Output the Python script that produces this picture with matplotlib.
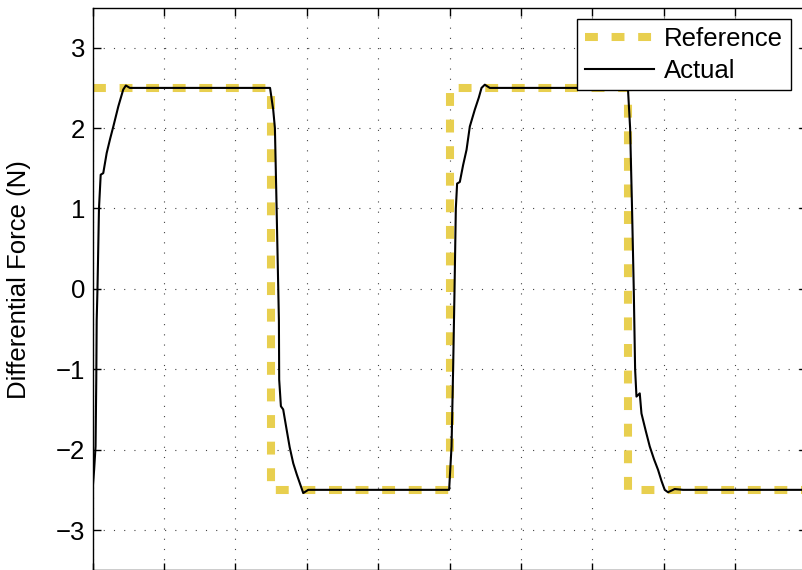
import numpy as np
import matplotlib
matplotlib.use('Agg')
import matplotlib.pyplot as plt

# Reference square wave (N)
ref_t = [0, 2.5, 2.5, 5, 5, 7.5, 7.5, 10, 10]
ref_f = [2.5, 2.5, -2.5, -2.5, 2.5, 2.5, -2.5, -2.5, 2.5]

act_t = [0, 0.02, 0.04, 0.05, 0.056, 0.067, 0.088, 0.112, 0.148, 0.196, 0.245, 0.289, 0.359,
         0.428, 0.465, 0.52, 0.6, 2.485, 2.529, 2.553, 2.577, 2.6, 2.609, 2.613, 2.637,
         2.669, 2.717, 2.76, 2.81, 2.86, 2.903, 2.95, 3.02, 3.1, 4.994, 5.028, 5.05, 5.07, 5.088,
         5.106, 5.144, 5.19, 5.238, 5.284, 5.354, 5.41, 5.448, 5.494, 5.564, 5.65, 7.49, 7.501, 7.53,
         7.557, 7.581, 7.6, 7.619, 7.665, 7.689, 7.75, 7.805, 7.865, 7.921, 7.97, 8.015, 8.061,
         8.155, 8.27, 10]
act_f = [-2.48, -2.25, -1.96, -1.13, -0.39, 0.0, 1.0, 1.42, 1.44, 1.69, 1.87, 2.02, 2.27,
         2.48, 2.53, 2.50, 2.50, 2.50, 2.23, 2.0, 1.0, 0.0, -0.39, -1.13, -1.46,
         -1.5, -1.75, -1.97, -2.17, -2.31, -2.42, -2.54, -2.50, -2.50, -2.50, -1.96, -1.0, 0.0, 1.0,
         1.31, 1.33, 1.54, 1.73, 2.02, 2.23, 2.38, 2.50, 2.54, 2.50, 2.50, 2.50, 2.47, 2.0,
         1.0, 0.0, -1.0, -1.34, -1.30, -1.55, -1.77, -1.96, -2.12, -2.25, -2.39, -2.5, -2.53,
         -2.49, -2.50, -2.50]

yticks = [-3, -2, -1, 0, 1, 2, 3]

plt.rcParams['font.family'] = ['Liberation Sans', 'DejaVu Sans']
fs = 18.5

fig = plt.figure(figsize=(8.03, 5.70), dpi=100)
ax = fig.add_axes([92.7 / 803, -0.0004, (806.4 - 92.7) / 803, 0.9872])

ax.plot(ref_t, ref_f, color='#E8CF4F', lw=5.8, dashes=(1.6, 1.7), label='Reference', zorder=2)
ax.plot(act_t, act_f, color='black', lw=1.5, label='Actual', zorder=3)

ax.set_xlim(0, 10)
ax.set_ylim(-3.5, 3.5)
ax.set_xticks(np.arange(0, 11, 1))
ax.set_yticks(yticks)
ax.set_yticklabels(['\u22123', '\u22122', '\u22121', '0', '1', '2', '3'])
ax.grid(True, color='#444444', linestyle=(0, (1, 8.2)), lw=0.8)
ax.tick_params(direction='in', length=5.4, width=1.0, top=True, right=True,
               labelsize=fs, pad=5.5, labelbottom=False)
for s in ax.spines.values():
    s.set_linewidth(1.0)

ax.set_ylabel('Differential Force (N)', fontsize=fs)
ax.yaxis.set_label_coords(-0.0865, 0.5157)

leg = ax.legend(loc='upper right', bbox_to_anchor=(0.9784, 0.979), borderaxespad=0,
                fontsize=fs, fancybox=False, framealpha=1, edgecolor='black',
                handlelength=2.7, handletextpad=0.4, borderpad=0.3, labelspacing=0.3)
leg.get_frame().set_linewidth(1.0)

fig.savefig('out.png', dpi=100)
